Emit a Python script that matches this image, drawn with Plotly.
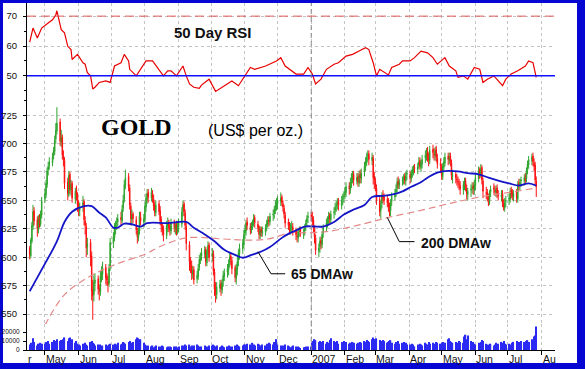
import pandas as pd
import plotly.graph_objects as go

# ---------------- data ----------------
dates = pd.bdate_range("2006-04-17", "2007-07-27")

open_ = [
    608, 601, 614, 627, 641, 633, 624, 635, 629, 637,  # Apr 06
    651, 655, 664, 677, 681, 683, 689, 693, 704, 711, 719, 701, 706, 689, 685, 666, 655, 673, 659, 665, 651, 659, 654,  # May
    647, 641, 645, 649, 632, 627, 609, 613, 601, 571, 567, 577, 581, 573, 569, 582, 585, 591, 583, 579, 577, 591,  # Jun
    612, 617, 625, 629, 631, 635, 632, 643, 651, 663, 671, 661, 645, 633, 638, 633, 623, 617, 623, 635, 631,  # Jul
    633, 644, 651, 657, 652, 656, 651, 646, 639, 647, 641, 633, 627, 625, 619, 627, 631, 627, 623, 631, 625, 629, 623,  # Aug
    627, 629, 641, 647, 639, 627, 611, 597, 593, 585, 589, 581, 583, 591, 597, 601, 603, 607, 595, 603, 611,  # Sep
    601, 603, 587, 573, 567, 573, 577, 571, 579, 583, 587, 589, 595, 601, 597, 591, 581, 589, 597, 603, 607, 611,  # Oct
    621, 623, 631, 627, 625, 627, 631, 635, 629, 627, 619, 625, 621, 622, 627, 629, 633, 631, 637, 639, 641, 645,  # Nov
    647, 649, 653, 647, 643, 637, 631, 627, 624, 628, 627, 623, 619, 617, 623, 625, 620, 623, 627, 631, 635,  # Dec
    637, 635, 633, 625, 617, 605, 609, 615, 611, 621, 627, 629, 633, 637, 633, 639, 641, 645, 647, 649, 645, 651, 653,  # Jan 07
    655, 657, 663, 659, 665, 669, 673, 667, 671, 665, 673, 669, 675, 681, 683, 689, 691, 685, 687, 671,  # Feb
    667, 661, 651, 641, 647, 655, 653, 651, 649, 643, 641, 649, 653, 657, 661, 667, 663, 667, 669, 671, 667, 673,  # Mar
    673, 669, 673, 676, 679, 677, 681, 685, 679, 682, 687, 689, 693, 687, 685, 695, 691, 689, 695, 687, 683,  # Apr
    679, 671, 679, 683, 689, 685, 689, 683, 671, 673, 669, 667, 665, 663, 659, 663, 667, 661, 655, 659, 661, 663, 659,  # May
    663, 669, 677, 673, 679, 667, 657, 657, 653, 649, 657, 661, 659, 657, 661, 655, 653, 656, 647, 643, 649,  # Jun
    651, 651, 659, 657, 653, 657, 651, 665, 663, 667, 667, 671, 669, 677, 681, 685, 689, 683, 681, 667,  # Jul
]
high = [
    610, 617, 631, 646, 644, 636, 637, 638, 641, 653,
    660, 668, 679, 684, 688, 692, 697, 707, 718, 732, 722, 712, 708, 694, 688, 670, 676, 675, 668, 667, 661, 663, 657,
    650, 648, 654, 651, 636, 630, 617, 616, 605, 580, 584, 586, 584, 576, 588, 592, 596, 594, 586, 584, 594, 617,
    622, 630, 632, 635, 638, 640, 646, 655, 668, 677, 674, 664, 648, 642, 640, 636, 626, 626, 640, 640, 638,
    648, 656, 660, 660, 661, 659, 655, 649, 650, 650, 645, 636, 630, 628, 632, 635, 633, 630, 634, 633, 631, 632, 632,
    634, 644, 650, 649, 642, 630, 614, 600, 597, 592, 592, 588, 594, 602, 604, 608, 610, 609, 607, 614, 613,
    608, 606, 590, 578, 578, 580, 580, 581, 588, 590, 594, 598, 604, 603, 600, 593, 594, 600, 607, 612, 616, 624,
    628, 633, 635, 630, 631, 633, 638, 637, 632, 628, 627, 627, 627, 629, 633, 636, 636, 639, 642, 645, 650, 652,
    654, 657, 655, 650, 646, 640, 634, 631, 630, 632, 630, 626, 623, 625, 627, 627, 625, 629, 633, 637, 640,
    640, 640, 636, 628, 620, 612, 618, 618, 623, 629, 634, 636, 640, 639, 641, 644, 648, 650, 652, 652, 654, 656, 658,
    662, 666, 666, 670, 674, 676, 676, 674, 674, 676, 677, 678, 684, 688, 692, 694, 694, 692, 690, 675,
    670, 664, 654, 650, 657, 659, 656, 655, 652, 648, 651, 657, 660, 664, 670, 671, 669, 671, 673, 674, 675, 677,
    676, 677, 680, 681, 682, 683, 688, 688, 686, 690, 694, 696, 697, 692, 698, 699, 696, 697, 698, 691, 687,
    682, 683, 688, 692, 692, 692, 692, 686, 677, 676, 673, 671, 669, 667, 667, 670, 670, 664, 661, 664, 666, 666, 668,
    674, 680, 679, 682, 681, 670, 662, 660, 656, 659, 663, 665, 663, 663, 664, 659, 659, 659, 651, 652, 654,
    656, 661, 662, 660, 659, 660, 667, 669, 669, 671, 673, 674, 679, 685, 689, 691, 692, 687, 684, 671,
]
low = [
    598, 599, 612, 624, 628, 618, 621, 626, 627, 634,
    648, 652, 661, 672, 677, 680, 686, 690, 700, 708, 698, 697, 686, 680, 660, 650, 653, 656, 654, 648, 647, 650, 640,
    636, 636, 640, 628, 620, 600, 602, 592, 562, 545, 561, 570, 567, 562, 566, 578, 580, 576, 575, 569, 574, 588,
    608, 614, 620, 624, 627, 628, 630, 640, 648, 660, 658, 642, 628, 628, 630, 620, 612, 614, 620, 628, 626,
    630, 640, 647, 648, 649, 648, 641, 636, 636, 637, 628, 622, 619, 614, 616, 622, 622, 619, 620, 622, 620, 619, 620,
    622, 626, 636, 636, 624, 606, 588, 586, 580, 581, 576, 577, 580, 588, 594, 597, 599, 592, 592, 599, 596,
    596, 584, 566, 560, 563, 569, 566, 568, 574, 579, 582, 584, 591, 593, 585, 578, 576, 584, 592, 598, 603, 608,
    616, 619, 624, 620, 621, 624, 627, 626, 622, 616, 616, 618, 618, 619, 623, 626, 627, 628, 632, 634, 638, 641,
    642, 645, 645, 640, 634, 626, 624, 620, 620, 622, 619, 615, 613, 613, 618, 618, 616, 619, 623, 627, 630,
    632, 628, 622, 612, 602, 600, 604, 607, 608, 617, 623, 626, 629, 630, 630, 634, 637, 640, 642, 641, 642, 646, 648,
    651, 653, 655, 656, 661, 665, 663, 664, 662, 662, 665, 665, 671, 676, 680, 684, 681, 681, 664, 660,
    658, 646, 636, 634, 643, 648, 646, 644, 640, 636, 636, 645, 650, 653, 657, 660, 660, 663, 664, 664, 663, 668,
    665, 666, 670, 672, 674, 673, 678, 677, 675, 678, 683, 685, 684, 680, 682, 687, 685, 685, 684, 678, 674,
    668, 668, 676, 680, 681, 682, 680, 668, 665, 665, 663, 661, 659, 655, 655, 659, 658, 651, 650, 653, 656, 655, 655,
    659, 666, 669, 670, 664, 652, 651, 649, 645, 646, 653, 656, 654, 653, 652, 650, 649, 644, 641, 640, 644,
    646, 648, 652, 650, 649, 648, 648, 659, 659, 662, 663, 665, 666, 673, 678, 681, 680, 676, 664, 653,
]
close = [
    602, 615, 628, 640, 632, 625, 634, 630, 638, 650,
    656, 665, 676, 680, 684, 688, 694, 703, 712, 718, 702, 705, 690, 686, 665, 656, 672, 660, 664, 652, 658, 655, 646,
    642, 644, 648, 633, 628, 608, 612, 600, 570, 566, 578, 580, 572, 570, 583, 586, 590, 582, 580, 576, 590, 613,
    618, 626, 628, 630, 634, 633, 642, 650, 664, 670, 662, 646, 634, 637, 634, 624, 618, 622, 636, 632, 634,
    645, 652, 656, 653, 657, 652, 645, 640, 646, 640, 632, 628, 624, 620, 628, 630, 626, 624, 630, 626, 628, 624, 628,
    630, 640, 646, 640, 628, 612, 596, 594, 586, 588, 580, 584, 590, 598, 600, 604, 606, 596, 604, 610, 600,
    604, 588, 572, 568, 574, 576, 572, 578, 584, 586, 590, 594, 600, 598, 590, 582, 590, 596, 604, 608, 612, 620,
    624, 630, 628, 624, 628, 630, 634, 630, 626, 620, 624, 622, 623, 626, 630, 632, 632, 636, 638, 642, 646, 648,
    650, 652, 648, 644, 638, 630, 628, 625, 627, 628, 624, 620, 618, 622, 624, 621, 622, 626, 630, 634, 636,
    636, 632, 626, 618, 606, 608, 614, 612, 620, 626, 630, 632, 636, 634, 638, 640, 644, 646, 648, 646, 650, 652, 654,
    658, 662, 660, 666, 670, 672, 668, 670, 666, 672, 670, 674, 680, 684, 688, 690, 686, 688, 670, 668,
    662, 650, 640, 646, 654, 652, 650, 648, 644, 642, 648, 654, 656, 660, 666, 664, 666, 668, 670, 668, 672, 674,
    670, 674, 677, 678, 678, 680, 684, 680, 683, 686, 690, 692, 688, 686, 694, 692, 690, 694, 688, 682, 680,
    672, 680, 684, 688, 686, 688, 684, 672, 672, 670, 668, 666, 664, 660, 664, 666, 662, 656, 658, 660, 662, 660, 664,
    670, 676, 674, 678, 668, 658, 656, 654, 650, 656, 660, 660, 658, 660, 656, 654, 655, 648, 644, 648, 650,
    652, 658, 656, 654, 656, 652, 664, 664, 666, 668, 670, 670, 676, 682, 686, 688, 684, 680, 668, 662,
]
volume_k = [
    6, 8, 7, 13, 9, 5, 7, 6, 8, 7,
    7, 9, 8, 10, 7, 9, 11, 10, 9, 12, 10, 11, 9, 12, 14, 10, 13, 14, 9, 12, 8, 10, 7,
    6, 5, 7, 6, 8, 6, 5, 9, 10, 8, 7, 5, 6, 5, 6, 4, 5, 6, 5, 4, 6, 7,
    6, 5, 7, 6, 8, 6, 7, 9, 8, 7, 9, 10, 8, 7, 9, 12, 14, 13, 10, 12, 8,
    6, 5, 4, 5, 4, 5, 3, 4, 5, 4, 3, 4, 5, 4, 3, 4, 3, 4, 3, 4, 3, 4, 3,
    4, 5, 4, 5, 6, 5, 6, 4, 5, 4, 5, 6, 5, 4, 3, 4, 5, 4, 3, 4, 5,
    5, 6, 5, 4, 5, 3, 4, 5, 4, 3, 4, 5, 4, 3, 4, 5, 4, 6, 5, 4, 5, 6,
    6, 5, 7, 6, 5, 8, 6, 5, 7, 6, 5, 4, 6, 5, 7, 6, 8, 7, 6, 9, 8, 12,
    6, 5, 4, 5, 4, 6, 5, 4, 3, 4, 5, 4, 3, 4, 3, 2, 3, 3, 4, 3, 4,
    4, 8, 10, 12, 11, 9, 10, 8, 9, 10, 7, 9, 8, 11, 13, 10, 9, 8, 10, 7, 9, 8, 10,
    8, 9, 7, 8, 6, 9, 8, 7, 8, 6, 9, 8, 10, 9, 11, 10, 9, 12, 14, 12,
    12, 13, 11, 10, 9, 11, 10, 8, 9, 10, 11, 8, 7, 9, 8, 10, 7, 8, 9, 7, 8, 6,
    6, 5, 7, 6, 4, 6, 5, 7, 6, 5, 8, 7, 6, 9, 7, 8, 6, 7, 9, 8, 7,
    8, 9, 7, 8, 12, 13, 10, 9, 8, 9, 7, 8, 10, 9, 8, 15, 17, 12, 16, 10, 8, 9, 7,
    6, 8, 7, 9, 11, 10, 7, 6, 5, 6, 7, 5, 6, 8, 6, 7, 9, 8, 10, 7, 6,
    7, 6, 4, 8, 9, 10, 8, 9, 7, 10, 9, 8, 10, 11, 9, 12, 10, 15, 16, 26,
]

rsi_dates = [
    "2006-04-17", "2006-04-19", "2006-04-20", "2006-04-24", "2006-04-26", "2006-04-28", "2006-05-04",
    "2006-05-08", "2006-05-11", "2006-05-12", "2006-05-16", "2006-05-19", "2006-05-22", "2006-05-25",
    "2006-05-26", "2006-05-31", "2006-06-05", "2006-06-07", "2006-06-09", "2006-06-12", "2006-06-14",
    "2006-06-16", "2006-06-20", "2006-06-26", "2006-06-30", "2006-07-04", "2006-07-10", "2006-07-13",
    "2006-07-17", "2006-07-18", "2006-07-24", "2006-07-27", "2006-08-02", "2006-08-08", "2006-08-14",
    "2006-08-18", "2006-08-22", "2006-08-25", "2006-08-30", "2006-09-05", "2006-09-08", "2006-09-11",
    "2006-09-15", "2006-09-20", "2006-09-22", "2006-09-29", "2006-10-05", "2006-10-11", "2006-10-20",
    "2006-10-26", "2006-11-02", "2006-11-06", "2006-11-10", "2006-11-20", "2006-11-30", "2006-12-04",
    "2006-12-08", "2006-12-18", "2006-12-25", "2006-12-29", "2007-01-02", "2007-01-05", "2007-01-10",
    "2007-01-15", "2007-01-22", "2007-01-26", "2007-02-02", "2007-02-08", "2007-02-14", "2007-02-20",
    "2007-02-23", "2007-02-27", "2007-03-02", "2007-03-05", "2007-03-13", "2007-03-16", "2007-03-23",
    "2007-03-26", "2007-04-02", "2007-04-06", "2007-04-12", "2007-04-18", "2007-04-23", "2007-04-27",
    "2007-05-04", "2007-05-08", "2007-05-14", "2007-05-16", "2007-05-21", "2007-05-25", "2007-05-31",
    "2007-06-05", "2007-06-08", "2007-06-12", "2007-06-18", "2007-06-22", "2007-06-26", "2007-06-29",
    "2007-07-04", "2007-07-10", "2007-07-17", "2007-07-20", "2007-07-24", "2007-07-27",
]
rsi_values = [
    61.3, 64.4, 66.0, 62.7, 64.4, 66.0, 67.7,
    68.8, 70.4, 71.8, 65.5, 64.4, 59.9, 58.8,
    55.5, 57.2, 54.4, 53.9, 51.1, 50.0, 45.6,
    46.2, 47.8, 48.3, 47.8, 53.3, 54.4, 57.2,
    55.0, 52.2, 50.0, 51.7, 55.0, 55.0, 52.2,
    50.0, 51.7, 51.7, 50.0, 53.3, 50.0, 47.3,
    46.2, 45.8, 46.9, 48.9, 44.8, 46.2, 48.3,
    46.7, 50.6, 52.8, 52.2, 53.3, 55.0, 56.1,
    53.3, 50.6, 50.6, 52.8, 50.6, 47.3, 48.9,
    52.2, 53.9, 54.4, 56.6, 57.2, 58.3, 59.4,
    58.8, 54.4, 50.0, 52.2, 50.3, 52.8, 53.9,
    55.0, 55.0, 56.1, 58.3, 57.7, 56.1, 53.9,
    56.1, 53.3, 51.7, 49.5, 50.0, 48.9, 52.8,
    52.2, 47.8, 48.9, 50.0, 48.3, 46.7, 48.9,
    50.6, 51.7, 53.3, 55.0, 54.4, 49.5,
]

dma65_dates = [
    "2006-04-17", "2006-04-28", "2006-05-12", "2006-05-19", "2006-05-26", "2006-06-06", "2006-06-13",
    "2006-06-19", "2006-06-26", "2006-07-03", "2006-07-07", "2006-07-13", "2006-07-20", "2006-07-28",
    "2006-08-03", "2006-08-22", "2006-09-08", "2006-09-15", "2006-09-25", "2006-10-04", "2006-10-13",
    "2006-10-23", "2006-10-30", "2006-11-07", "2006-11-16", "2006-11-24", "2006-12-05", "2006-12-11",
    "2006-12-19", "2006-12-26", "2007-01-04", "2007-01-12", "2007-01-22", "2007-01-31", "2007-02-09",
    "2007-02-19", "2007-02-26", "2007-03-07", "2007-03-16", "2007-03-26", "2007-04-03", "2007-04-11",
    "2007-04-18", "2007-04-27", "2007-05-07", "2007-05-16", "2007-05-25", "2007-06-04", "2007-06-13",
    "2007-06-22", "2007-07-02", "2007-07-11", "2007-07-20", "2007-07-27",
]
dma65_values = [
    570, 589, 614, 631, 640, 645, 645,
    640, 635, 626, 626, 629.5, 629, 627,
    630, 630, 631, 626, 620, 614, 606.5,
    602, 599.5, 602, 605, 609, 617, 620.5,
    624, 627, 627, 627, 631, 637.5, 642,
    646, 653, 654, 655, 658, 662, 665.5,
    670, 674.5, 676, 675.5, 674, 673, 670,
    667.5, 665, 663, 665, 663,
]

dma200_dates = [
    "2006-05-01", "2006-05-19", "2006-06-13", "2006-07-06", "2006-08-02", "2006-08-14", "2006-09-08",
    "2006-10-13", "2006-11-03", "2006-11-22", "2006-12-13", "2006-12-26", "2007-01-15", "2007-02-08",
    "2007-03-01", "2007-03-13", "2007-04-11", "2007-05-07", "2007-06-08", "2007-07-09", "2007-07-27",
]
dma200_values = [
    540, 567, 584, 594, 603, 609, 617,
    616, 615, 616, 621.5, 621.5, 622.5, 627,
    632, 635, 641, 647, 653.5, 658, 661,
]

month_starts = pd.date_range("2006-05-01", "2007-08-01", freq="MS")
month_labels = ["May", "Jun", "Jul", "Aug", "Sep", "Oct", "Nov", "Dec", "2007",
                "Feb", "Mar", "Apr", "May", "Jun", "Jul", "Au"]
rsi_ticks = [50, 60, 70]
price_ticks = [550, 575, 600, 625, 650, 675, 700, 725]
vol_ticks = [0, 10000, 20000]

volume = [v * 1000 for v in volume_k]

# ---------------- geometry helpers ----------------
W, H = 585, 369
ML, MR, MT, MB = 27, 30, 3, 19
PW, PH = W - ML - MR, H - MT - MB


def px(x):
    return (x - ML) / PW


def py(y):
    return (H - MB - y) / PH


FRAME = "#0606d2"
FONT = "Liberation Sans, Arial, sans-serif"
GRID = "#c4c4c4"

fig = go.Figure()

fig.add_trace(go.Bar(
    x=dates, y=volume, yaxis="y3", width=86400000 * 1.15,
    marker=dict(color="#2a2af2", line=dict(width=0)), hoverinfo="skip"))

fig.add_trace(go.Candlestick(
    x=dates, open=open_, high=high, low=low, close=close, yaxis="y2",
    whiskerwidth=0,
    increasing=dict(line=dict(color="#2ea52e", width=1), fillcolor="#2ea52e"),
    decreasing=dict(line=dict(color="#ff1111", width=1), fillcolor="#ff1111")))

fig.add_trace(go.Scatter(
    x=dma200_dates, y=dma200_values, yaxis="y2", mode="lines",
    line=dict(color="#e48888", width=1.2, dash="7px,4px", shape="spline")))

fig.add_trace(go.Scatter(
    x=dma65_dates, y=dma65_values, yaxis="y2", mode="lines",
    line=dict(color="#1515c8", width=1.8, shape="spline")))

fig.add_trace(go.Scatter(
    x=rsi_dates, y=rsi_values, yaxis="y", mode="lines",
    line=dict(color="#e80000", width=1.2)))

tickfont = dict(family=FONT, size=9.5, color="#111111")
smallfont = dict(family=FONT, size=6.5, color="#111111")
common_y = dict(showline=True, linecolor="#000000", linewidth=1, ticks="outside",
                ticklen=3, tickcolor="#000000", tickfont=tickfont, zeroline=False,
                showgrid=True, gridcolor=GRID, griddash="dot", gridwidth=1, fixedrange=True,
                automargin=False)

d_rsi = [py(92), 1.0]
d_price = [py(324), py(92)]
d_vol = [0.0, py(324)]

rsi_range = [44.6, 74.4]
price_range = [541.2, 745.4]
vol_range = [0, 28900]

fig.update_layout(
    width=W, height=H,
    margin=dict(l=ML, r=MR, t=MT, b=MB, pad=0, autoexpand=False),
    paper_bgcolor=FRAME, plot_bgcolor="white",
    showlegend=False,
    xaxis=dict(type="date", range=["2006-04-14 12:00", "2007-08-13 06:00"], anchor="y3",
               tickvals=list(month_starts), showticklabels=False, ticks="outside", ticklen=4,
               tickcolor="#000000", showgrid=True, gridcolor=GRID, griddash="dot",
               showline=True, linecolor="#000000", linewidth=1, zeroline=False,
               rangeslider=dict(visible=False), fixedrange=True, automargin=False),
    yaxis=dict(domain=d_rsi, range=rsi_range, tickvals=rsi_ticks, anchor="x",
               minor=dict(ticks="outside", ticklen=2, dtick=5, showgrid=False, tickcolor="#000"),
               ticklabelstandoff=4, **common_y),
    yaxis2=dict(domain=d_price, range=price_range, tickvals=price_ticks, anchor="x",
                minor=dict(ticks="outside", ticklen=2, dtick=12.5, showgrid=False, tickcolor="#000"),
                ticklabelstandoff=4, **common_y),
    yaxis3=dict(domain=d_vol, range=vol_range, tickvals=vol_ticks,
                ticktext=[str(v) for v in vol_ticks], anchor="x", ticklabelstandoff=2,
                **{**common_y, "tickfont": smallfont, "showgrid": False}),
    yaxis4=dict(overlaying="y", side="right", range=rsi_range, tickvals=rsi_ticks, anchor="x",
                minor=dict(ticks="outside", ticklen=2, dtick=5, showgrid=False, tickcolor="#000"),
                ticklabelstandoff=0, **{**common_y, "showgrid": False}),
    yaxis5=dict(overlaying="y2", side="right", range=price_range, tickvals=price_ticks, anchor="x",
                minor=dict(ticks="outside", ticklen=2, dtick=12.5, showgrid=False, tickcolor="#000"),
                ticklabelstandoff=0, **{**common_y, "showgrid": False}),
    yaxis6=dict(overlaying="y3", side="right", range=vol_range, tickvals=vol_ticks,
                ticktext=[str(v) for v in vol_ticks], anchor="x", ticklabelstandoff=0,
                **{**common_y, "tickfont": smallfont, "showgrid": False}),
)

shapes = [
    # white inner card over the blue frame
    dict(type="rect", xref="paper", yref="paper", x0=px(3), x1=px(577), y0=py(363), y1=1.0,
         fillcolor="white", line=dict(width=0), layer="below"),
    # RSI reference lines
    dict(type="line", xref="paper", yref="y", x0=0, x1=1, y0=70, y1=70,
         line=dict(color="#e05a5a", width=1, dash="9px,5px")),
    dict(type="line", xref="paper", yref="y", x0=0, x1=1, y0=50, y1=50,
         line=dict(color="#1010ff", width=1.5)),
    # year separator
    dict(type="line", xref="x", yref="paper", x0="2007-01-01", x1="2007-01-01", y0=0, y1=1,
         line=dict(color="#8a8a8a", width=1, dash="5px,3px")),
    # leader lines
    dict(type="line", xref="x", yref="y2", x0="2006-11-13", y0=604.8, x1="2006-11-25", y1=585.4,
         line=dict(color="#000000", width=1)),
    dict(type="line", xref="x", yref="y2", x0="2006-11-25", y0=585.4, x1="2006-12-08", y1=585.4,
         line=dict(color="#000000", width=1)),
    dict(type="line", xref="x", yref="y2", x0="2007-03-12", y0=634.9, x1="2007-03-23", y1=613.7,
         line=dict(color="#000000", width=1)),
    dict(type="line", xref="x", yref="y2", x0="2007-03-23", y0=613.7, x1="2007-04-06", y1=613.7,
         line=dict(color="#000000", width=1)),
]
fig.update_layout(shapes=shapes)

ann = [
    dict(text="<b>50 Day RSI</b>", x=px(212.5), y=py(33), xanchor="center", yanchor="middle",
         font=dict(family=FONT, size=15, color="#111111")),
    dict(text="<b>GOLD</b>", x=px(136.5), y=py(127), xanchor="center", yanchor="middle",
         font=dict(family="Liberation Serif, Times New Roman, serif", size=24, color="#000000")),
    dict(text="(US$ per oz.)", x=px(206), y=py(130), xanchor="left", yanchor="middle",
         font=dict(family=FONT, size=16, color="#000000")),
    dict(text="<b>65 DMAw</b>", x=px(289), y=py(273.5), xanchor="left", yanchor="middle",
         font=dict(family=FONT, size=14, color="#111111")),
    dict(text="<b>200 DMAw</b>", x=px(419), y=py(243), xanchor="left", yanchor="middle",
         font=dict(family=FONT, size=14, color="#111111")),
    dict(text="r", x=0, y=0, xanchor="left", yanchor="top", yshift=-1, xshift=-1,
         font=dict(family=FONT, size=10.5, color="#111111")),
]
for d, lab in zip(month_starts, month_labels):
    ann.append(dict(text=lab, x=d, xref="x", y=0, yref="paper", xanchor="left", yanchor="top",
                    yshift=-1, xshift=-1, font=dict(family=FONT, size=10.5, color="#111111")))
for a in ann:
    a.setdefault("xref", "paper")
    a.setdefault("yref", "paper")
    a["showarrow"] = False
fig.update_layout(annotations=ann)

fig.write_html("out.html", config={"displayModeBar": False},
               post_script=["document.body.style.margin='0';"])
